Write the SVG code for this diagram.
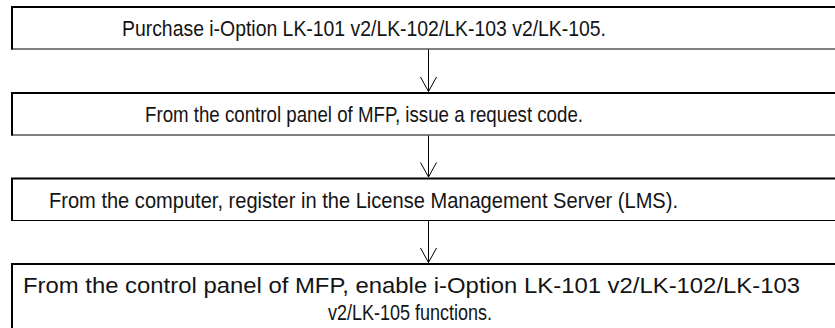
<svg xmlns="http://www.w3.org/2000/svg" width="835" height="328" viewBox="0 0 835 328">
<defs>
<style>
.bg{fill:#ffffff}
.thick{stroke:#000;stroke-width:2;fill:none}
.thin{stroke:#000;stroke-width:1;fill:none}
.conn{stroke:#000;stroke-width:1;fill:none}
.lbl{font-family:"Liberation Sans",Arial,Helvetica,sans-serif;font-size:22.5px;fill:#141414}
</style>
</defs>
<rect class="bg" x="0" y="0" width="835" height="328"/>
<g id="step1">
<path class="thick" d="M11 7H850M12 6V49.5"/>
<path class="thin" d="M11 49H850"/>
<text class="lbl" x="122" y="36" textLength="484" lengthAdjust="spacingAndGlyphs">Purchase i-Option LK-101 v2/LK-102/LK-103 v2/LK-105.</text>
</g>
<g id="step2">
<path class="thick" d="M11 93H850M12 92V135.5"/>
<path class="thin" d="M11 135H850"/>
<text class="lbl" x="145" y="122" textLength="438" lengthAdjust="spacingAndGlyphs">From the control panel of MFP, issue a request code.</text>
</g>
<g id="step3">
<path class="thick" d="M11 178.5H850M12 177.5V221"/>
<path class="thin" d="M11 220.5H850"/>
<text class="lbl" x="49" y="208" textLength="629" lengthAdjust="spacingAndGlyphs">From the computer, register in the License Management Server (LMS).</text>
</g>
<g id="step4">
<path class="thick" d="M11 264H850M12 263V330"/>
<text class="lbl" x="23" y="293" textLength="777" lengthAdjust="spacingAndGlyphs">From the control panel of MFP, enable i-Option LK-101 v2/LK-102/LK-103</text>
<text class="lbl" x="328" y="320" textLength="164" lengthAdjust="spacingAndGlyphs">v2/LK-105 functions.</text>
</g>
<g id="connectors">
<path class="conn" d="M428.5 49.5V91.5M420.5 77L428.5 91.5L436.5 77"/>
<path class="conn" d="M428.5 135.5V177M420.5 162.5L428.5 177L436.5 162.5"/>
<path class="conn" d="M428.5 221V262.5M420.5 248L428.5 262.5L436.5 248"/>
</g>
</svg>
